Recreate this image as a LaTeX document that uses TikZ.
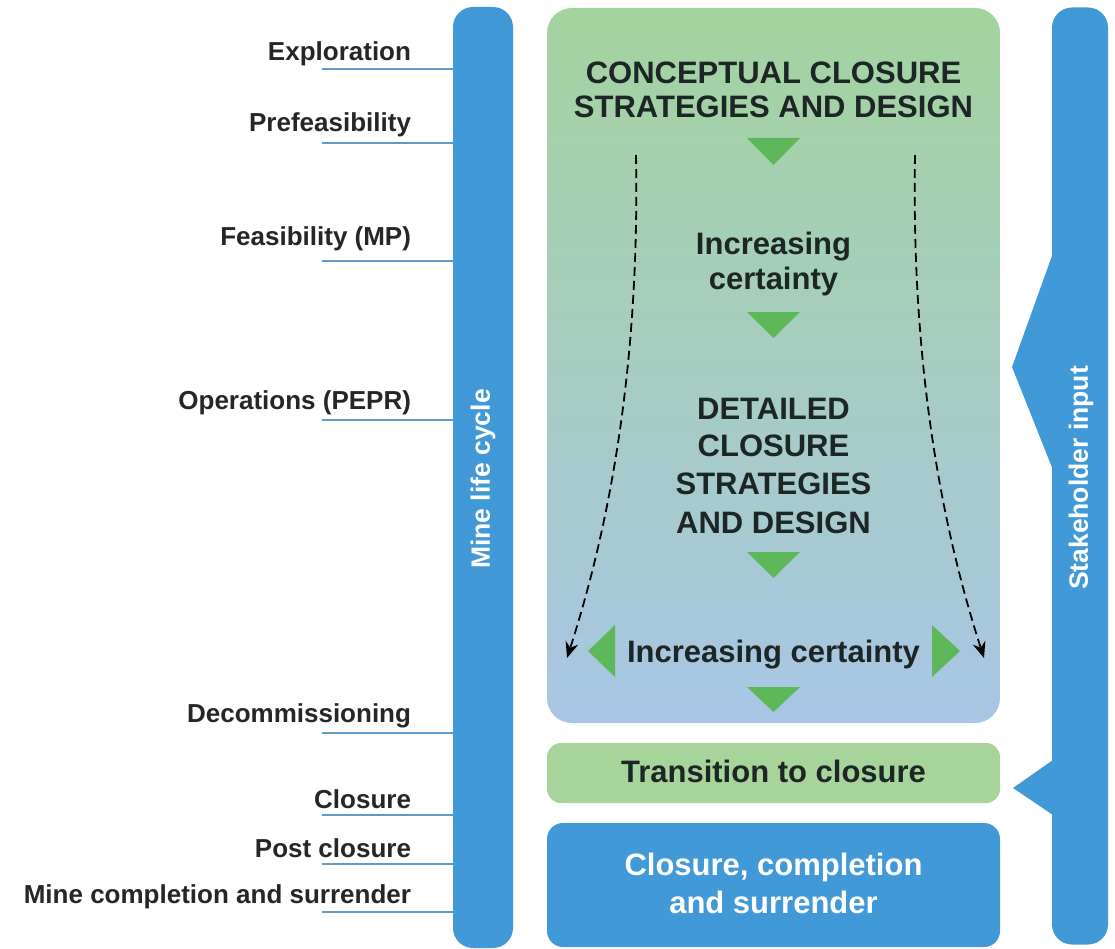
\documentclass[tikz,border=0pt]{standalone}
\usepackage{fontspec}
\setmainfont{Liberation Sans}
\usetikzlibrary{arrows.meta}
\definecolor{barblue}{RGB}{66,153,216}
\definecolor{tickblue}{RGB}{92,156,204}
\definecolor{labelgray}{RGB}{38,38,38}
\definecolor{maintext}{RGB}{28,38,36}
\definecolor{gtop}{RGB}{164,211,158}
\definecolor{gbot}{RGB}{168,198,229}
\definecolor{transgreen}{RGB}{166,212,155}
\definecolor{trigreen}{RGB}{94,184,90}
\tikzset{
  lbl/.style={anchor=base east, font=\fontsize{26}{30}\selectfont\bfseries, text=labelgray},
  maintxt/.style={anchor=base, font=\fontsize{31}{36}\selectfont\bfseries, text=maintext},
  whitetxt/.style={anchor=base, font=\fontsize{31}{36}\selectfont\bfseries, text=white},
  bartxt/.style={rotate=90, font=\fontsize{26.5}{30}\selectfont\bfseries, text=white},
  tick/.style={draw=tickblue, line width=2pt},
  gtri/.style={fill=trigreen},
  dasharrow/.style={draw=black, dash pattern=on 9pt off 5pt, line width=1.8pt, -{Stealth[length=16pt,width=13pt]}},
  barnode/.style={fill=barblue, rounded corners=20pt}
}
\begin{document}
\begin{tikzpicture}[x=1pt,y=-1pt, every node/.style={inner sep=0pt, outer sep=0pt}]
\useasboundingbox (0,0) rectangle (1115,949);
\fill[white] (0,0) rectangle (1115,949);

% left bar
\node[barnode, minimum width=60pt, minimum height=941pt] (lifebar) at (483,477.5) {};
\node[bartxt] (lifetext) at (483,479) {Mine life cycle};

% labels and ticks
\node[lbl] (l1) at (411,61) {Exploration};
\node[lbl] (l2) at (411,132) {Prefeasibility};
\node[lbl] (l3) at (411,246) {Feasibility (MP)};
\node[lbl] (l4) at (411,409) {Operations (PEPR)};
\node[lbl] (l5) at (411,722) {Decommissioning};
\node[lbl] (l6) at (411,808) {Closure};
\node[lbl] (l7) at (411,857) {Post closure};
\node[lbl] (l8) at (411,903) {Mine completion and surrender};
\coordinate (t1) at (322,69);
\coordinate (t2) at (322,143);
\coordinate (t3) at (322,261);
\coordinate (t4) at (322,420);
\coordinate (t5) at (322,733);
\coordinate (t6) at (322,815);
\coordinate (t7) at (322,864);
\coordinate (t8) at (322,912);
\foreach \t in {t1,t2,t3,t4,t5,t6,t7,t8}{
  \draw[tick] (\t) -- (\t -| lifebar.west);
}

% main gradient box
\node[rounded corners=25pt, top color=gtop, bottom color=gbot, minimum width=453pt, minimum height=715pt] (mainbox) at (773.5,365.5) {};

\node[maintxt] (c1) at (773.5,84) {CONCEPTUAL CLOSURE};
\node[maintxt] (c2) at (773.5,118) {STRATEGIES AND DESIGN};
\fill[gtri] (747,138) -- (800,138) -- (773.5,165) -- cycle;
\node[maintxt] (i1) at (773.5,255) {Increasing};
\node[maintxt] (i2) at (773.5,290) {certainty};
\fill[gtri] (747,312) -- (800,312) -- (773.5,338) -- cycle;
\node[maintxt] (d1) at (773.5,419) {DETAILED};
\node[maintxt] (d2) at (773.5,456) {CLOSURE};
\node[maintxt] (d3) at (773.5,494) {STRATEGIES};
\node[maintxt] (d4) at (773.5,533) {AND DESIGN};
\fill[gtri] (747,552) -- (800,552) -- (773.5,578) -- cycle;
\node[maintxt] (ic) at (773.5,662) {Increasing certainty};
\fill[gtri] (615,625) -- (615,677) -- (588,651) -- cycle;
\fill[gtri] (932,625) -- (932,677) -- (960,651) -- cycle;
\fill[gtri] (747,687) -- (800,687) -- (773.5,712) -- cycle;

% dashed arrows
\coordinate (dl0) at (636,155);
\coordinate (dl1) at (567,658);
\coordinate (dr0) at (915,155);
\coordinate (dr1) at (984,658);
\draw[dasharrow] (dl0) .. controls (640,380) and (605,540) .. (dl1);
\draw[dasharrow] (dr0) .. controls (911,380) and (946,540) .. (dr1);

% transition box
\node[fill=transgreen, rounded corners=14pt, minimum width=453pt, minimum height=60pt] (trans) at (773.5,773) {};
\node[maintxt] (transtext) at (773.5,782) {Transition to closure};

% closure box
\node[fill=barblue, rounded corners=16pt, minimum width=453pt, minimum height=124pt] (closebox) at (773.5,885) {};
\node[whitetxt] (cl1) at (773.5,875) {Closure, completion};
\node[whitetxt] (cl2) at (773.5,913) {and surrender};

% right bar
\node[barnode, minimum width=56pt, minimum height=937pt] (stakebar) at (1080,476) {};
\fill[barblue] (1053,253) -- (1012,367) -- (1053,470) -- cycle;
\fill[barblue] (1053,760) -- (1013,788) -- (1053,815) -- cycle;
\node[bartxt] (staketext) at (1081,478) {Stakeholder input};
\end{tikzpicture}
\end{document}
